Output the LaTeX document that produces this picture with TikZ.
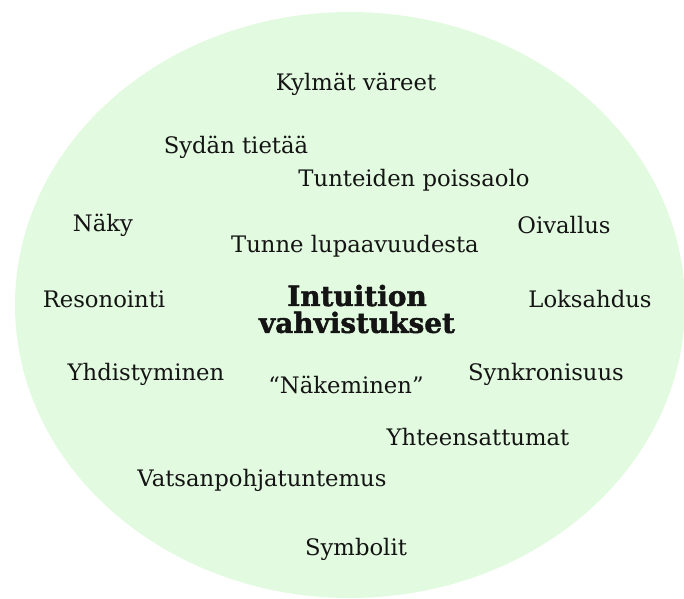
\documentclass[tikz,border=0pt]{standalone}
\usepackage{fontspec}
\setmainfont{DejaVu Serif}
\newfontfamily\heavyserif{DejaVu Serif Bold}[FakeBold=1.6]
\definecolor{bubblegreen}{HTML}{E2FADF}
\definecolor{inkblack}{HTML}{141414}
\tikzstyle{word} = [text=inkblack, font=\fontsize{22.8}{26}\selectfont, inner sep=0pt]
\tikzstyle{title} = [text=inkblack, font=\fontsize{28}{27}\heavyserif, align=center, inner sep=0pt]

\begin{document}
\begin{tikzpicture}[x=1bp,y=-1bp]
  \useasboundingbox (0,0) rectangle (684,599);
  \fill [bubblegreen] (350,305) ellipse [x radius=335, y radius=293];
  \node (center) at (357,309) [title] {Intuition\\vahvistukset};
  \node (kylmat) at (356,84) [word] {Kylmät väreet};
  \node (sydan) at (236,147) [word] {Sydän tietää};
  \node (tunteiden) at (414,180) [word] {Tunteiden poissaolo};
  \node (naky) at (103,225) [word] {Näky};
  \node (oivallus) at (564,225) [word] {Oivallus};
  \node (tunne) at (355,246) [word] {Tunne lupaavuudesta};
  \node (resonointi) at (104,299) [word] {Resonointi};
  \node (loksahdus) at (590,299) [word] {Loksahdus};
  \node (yhdistyminen) at (146,374) [word] {Yhdistyminen};
  \node (nakeminen) at (346,385) [word] {“Näkeminen”};
  \node (synkronisuus) at (546,374) [word] {Synkronisuus};
  \node (yhteensattumat) at (478,437) [word] {Yhteensattumat};
  \node (vatsa) at (262,480) [word] {Vatsanpohjatuntemus};
  \node (symbolit) at (356,549) [word] {Symbolit};
\end{tikzpicture}
\end{document}
